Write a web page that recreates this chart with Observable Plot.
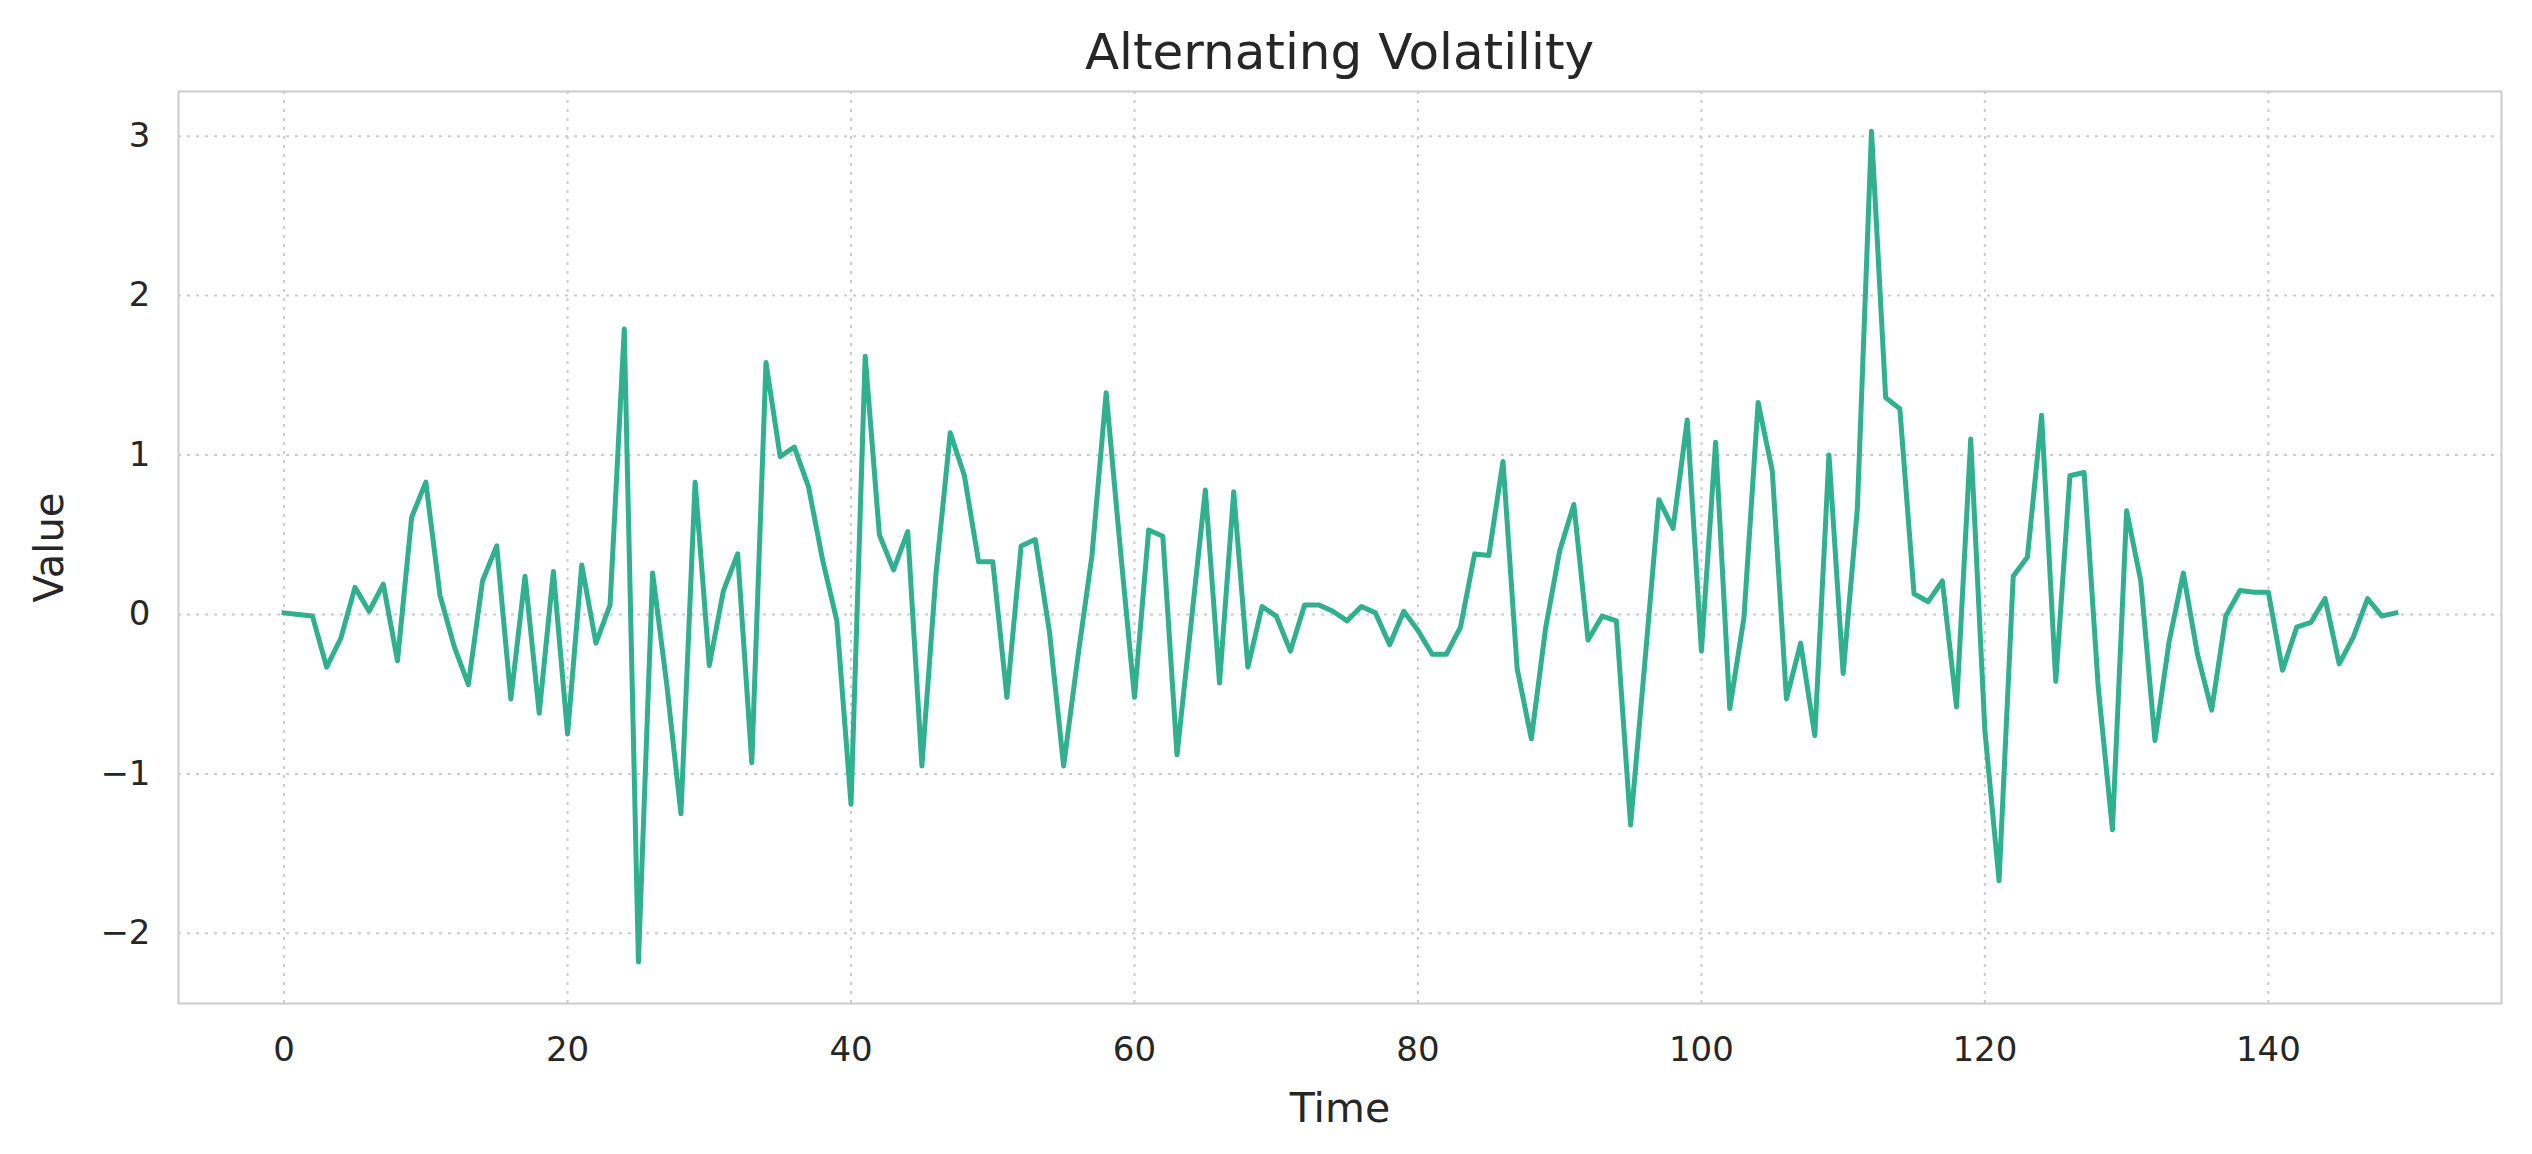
<!DOCTYPE html>
<html>
<head>
<meta charset="utf-8">
<script src="https://cdn.jsdelivr.net/npm/d3@7"></script>
<script src="https://cdn.jsdelivr.net/npm/@observablehq/plot@0.6"></script>
<style>
  html, body { margin: 0; padding: 0; background: #ffffff; }
  #title {
    margin-left: 178px; width: 2323px; height: 72px; line-height: 72px; padding-top: 16px;
    text-align: center; font-family: "DejaVu Sans", sans-serif; font-size: 50px; color: #262626;
  }
</style>
</head>
<body>
<div id="title">Alternating Volatility</div>
<div id="chart"></div>
<script>
const values = [
  0.01, 0.00, -0.01, -0.33, -0.15, 0.17, 0.02, 0.19, -0.29, 0.61,
  0.83, 0.12, -0.20, -0.44, 0.21, 0.43, -0.53, 0.24, -0.62, 0.27,
  -0.75, 0.31, -0.18, 0.06, 1.79, -2.18, 0.26, -0.44, -1.25, 0.83,
  -0.32, 0.15, 0.38, -0.93, 1.58, 0.99, 1.05, 0.80, 0.34, -0.04,
  -1.19, 1.62, 0.50, 0.28, 0.52, -0.95, 0.26, 1.14, 0.87, 0.33,
  0.33, -0.52, 0.43, 0.47, -0.11, -0.95, -0.27, 0.37, 1.39, 0.41,
  -0.52, 0.53, 0.49, -0.88, -0.05, 0.78, -0.43, 0.77, -0.33, 0.05,
  -0.01, -0.23, 0.06, 0.06, 0.02, -0.04, 0.05, 0.01, -0.19, 0.02,
  -0.10, -0.25, -0.25, -0.08, 0.38, 0.37, 0.96, -0.34, -0.78, -0.09,
  0.40, 0.69, -0.16, -0.01, -0.04, -1.32, -0.31, 0.72, 0.54, 1.22,
  -0.23, 1.08, -0.59, -0.02, 1.33, 0.90, -0.53, -0.18, -0.76, 1.00,
  -0.37, 0.66, 3.03, 1.36, 1.29, 0.13, 0.08, 0.21, -0.58, 1.10,
  -0.73, -1.67, 0.24, 0.36, 1.25, -0.42, 0.87, 0.89, -0.46, -1.35,
  0.65, 0.21, -0.79, -0.17, 0.26, -0.25, -0.60, -0.01, 0.15, 0.14,
  0.14, -0.35, -0.08, -0.05, 0.10, -0.31, -0.14, 0.10, -0.01, 0.01
];
const xTicks = [0, 20, 40, 60, 80, 100, 120, 140];
const yTicks = [-2, -1, 0, 1, 2, 3];
const xLabel = "Time";
const yLabel = "Value";

const fmt = d => d < 0 ? "\u2212" + Math.abs(d) : String(d);
const textColor = "#262626";
const gridStyle = {stroke: "#cccccc", strokeOpacity: 1, strokeWidth: 2, strokeDasharray: "3,6"};

const chart = Plot.plot({
  width: 2532,
  height: 1066,
  marginTop: 3,
  marginBottom: 151,
  marginLeft: 178,
  marginRight: 31,
  style: {fontFamily: "DejaVu Sans, sans-serif", color: textColor, background: "#ffffff"},
  x: {domain: [-7.45, 156.45]},
  y: {domain: [-2.44, 3.28]},
  marks: [
    Plot.gridX(xTicks, gridStyle),
    Plot.gridY(yTicks, gridStyle),
    Plot.axisX(xTicks, {tickSize: 0, tickPadding: 33, fontSize: 34, tickFormat: fmt, label: null, fill: textColor}),
    Plot.axisY(yTicks, {tickSize: 0, tickPadding: 28, fontSize: 34, tickFormat: fmt, label: null, fill: textColor}),
    Plot.lineY(values, {stroke: "#30b08e", strokeWidth: 5, strokeLinejoin: "round", strokeLinecap: "square"}),
    Plot.frame({stroke: "#cccccc", strokeWidth: 2}),
    Plot.text([xLabel], {frameAnchor: "bottom", dy: 105, text: d => d, fontSize: 41, fill: textColor, lineAnchor: "middle", textAnchor: "middle"}),
    Plot.text([yLabel], {frameAnchor: "left", dx: -128, text: d => d, fontSize: 40, fill: textColor, rotate: -90, lineAnchor: "middle", textAnchor: "middle"})
  ]
});
document.getElementById("chart").appendChild(chart);
</script>
</body>
</html>
